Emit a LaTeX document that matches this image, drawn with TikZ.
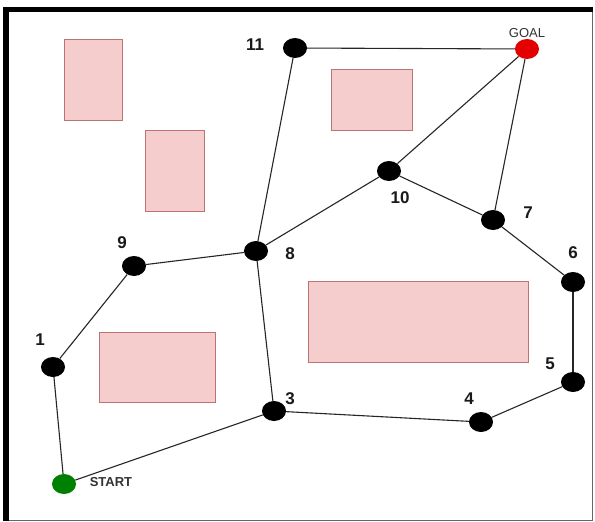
\documentclass[tikz,border=0pt]{standalone}
\usepackage{fontspec}
\setmainfont{Liberation Sans}
\usetikzlibrary{shapes.geometric}
\definecolor{obsfill}{RGB}{245,205,205}
\definecolor{obsline}{RGB}{190,115,115}
\begin{document}
\begin{tikzpicture}[x=1pt,y=-1pt,
  wp/.style={ellipse, fill=black, minimum width=24pt, minimum height=20pt, inner sep=0pt},
  startpt/.style={wp, fill=green!50!black},
  goalpt/.style={wp, fill=red!90!black},
  num/.style={font=\fontsize{17}{17}\selectfont\bfseries, text=black!90},
  obstacle/.style={fill=obsfill, draw=obsline, line width=0.8pt},
  edge/.style={draw=black!85, line width=1.1pt}]
\useasboundingbox (0,0) rectangle (595,522);
% frame of the map
\fill[white] (0,0) rectangle (595,522);
\draw[black!60, line width=1pt] (6,10) rectangle (592,520);
\fill[black] (3,7) rectangle (9,521);
\fill[black] (3,7) rectangle (593,12);
% obstacles
\path[obstacle] (64,39) rectangle (122,120);
\path[obstacle] (145,130) rectangle (204,211);
\path[obstacle] (331,69) rectangle (412,130);
\path[obstacle] (99,332) rectangle (215,402);
\path[obstacle] (308,281) rectangle (528,362);
% waypoints
\node[startpt] (s) at (64,484) {};
\node[wp] (n1) at (53,367) {};
\node[wp] (n3) at (274,411) {};
\node[wp] (n4) at (481,422) {};
\node[wp] (n5) at (573,382) {};
\node[wp] (n6) at (573,282) {};
\node[wp] (n7) at (493,220) {};
\node[wp] (n8) at (256,251) {};
\node[wp] (n9) at (134,266) {};
\node[wp] (n10) at (389,171) {};
\node[wp] (n11) at (295,48) {};
\node[goalpt] (g) at (527,49) {};
% labels
\node[font=\fontsize{13}{13}\selectfont\bfseries, text=black!80] (ls) at (111,482) {START};
\node[font=\fontsize{13}{13}\selectfont, text=black!80] (lg) at (527,33) {GOAL};
\node[num] (l1) at (40,340) {1};
\node[num] (l3) at (290,399) {3};
\node[num] (l4) at (469,399) {4};
\node[num] (l5) at (550,364) {5};
\node[num] (l6) at (573,253) {6};
\node[num] (l7) at (528,213) {7};
\node[num] (l8) at (290,254) {8};
\node[num] (l9) at (122,243) {9};
\node[num] (l10) at (400,198) {10};
\node[num] (l11) at (255,45) {11};
% connections
\draw[edge] (n11) -- (g);
\draw[edge] (n11) -- (n8);
\draw[edge] (g) -- (n10);
\draw[edge] (g) -- (n7);
\draw[edge] (n10) -- (n8);
\draw[edge] (n10) -- (n7);
\draw[edge] (n7) -- (n6);
\draw[edge] (n6) -- (n5);
\draw[edge] (n5) -- (n4);
\draw[edge] (n4) -- (n3);
\draw[edge] (n3) -- (n8);
\draw[edge] (n3) -- (s);
\draw[edge] (s) -- (n1);
\draw[edge] (n1) -- (n9);
\draw[edge] (n9) -- (n8);
\end{tikzpicture}
\end{document}
